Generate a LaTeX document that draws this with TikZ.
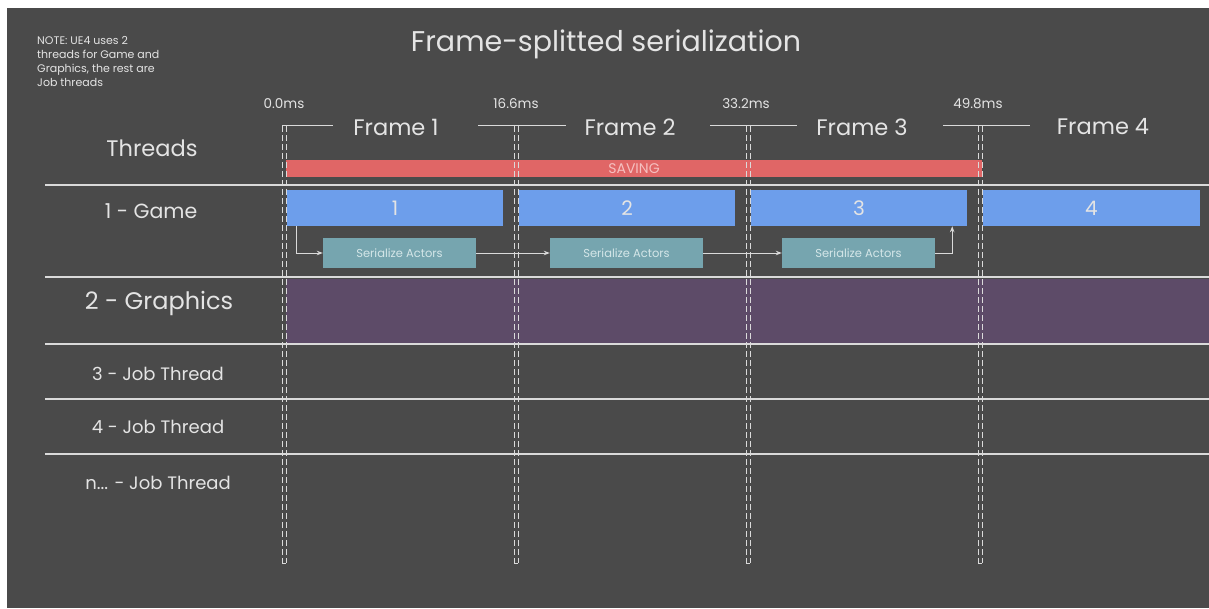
\documentclass[tikz,border=0pt]{standalone}
\usepackage{fontspec}
\setmainfont{Poppins}
\usetikzlibrary{arrows.meta}
\definecolor{bg}{RGB}{74,74,74}
\definecolor{txt}{RGB}{228,228,228}
\definecolor{ln}{RGB}{218,218,218}
\definecolor{savred}{RGB}{224,102,102}
\definecolor{savtxt}{RGB}{245,192,192}
\definecolor{gameblue}{RGB}{109,158,235}
\definecolor{serteal}{RGB}{118,165,175}
\definecolor{sertxt}{RGB}{212,230,232}
\definecolor{gfxpurple}{RGB}{93,75,104}
\newcommand{\fsz}[1]{\fontsize{#1}{#1}\selectfont}
\tikzset{
  lbl/.style={text=txt, inner sep=0pt, anchor=center},
  bar/.style={inner sep=0pt, anchor=center, draw=none},
  gamebar/.style={bar, fill=gameblue, minimum width=216pt, minimum height=36pt, text=txt, font=\fsz{20}},
  serbox/.style={bar, fill=serteal, minimum width=153pt, minimum height=30pt, text=sertxt, font=\fsz{11.5}},
  rowline/.style={draw=ln, line width=1.2pt},
  marker/.style={draw=ln, line width=0.9pt, dash pattern=on 6pt off 3pt},
  seg/.style={draw=ln, line width=1pt},
  conn/.style={draw=ln, line width=0.9pt, -{Stealth[length=6pt,width=4.5pt]}},
}
\begin{document}
\begin{tikzpicture}[x=1pt,y=-1pt]
\useasboundingbox (0,0) rectangle (1209,608);
\fill[white] (0,0) rectangle (1209,608);
\fill[bg] (7,8) rectangle (1209,608);

% note and title
\node[lbl, anchor=north west, align=left, font={\fontsize{11}{14}\selectfont}, text=txt] (note) at (37,36)
  {NOTE: UE4 uses 2\\threads for Game and\\Graphics, the rest are\\Job threads};
\node[lbl, font=\fsz{28.5}] (title) at (606,44) {Frame-splitted serialization};

% row lines
\coordinate (l0a) at (45,185); \coordinate (l0b) at (1209,185);
\coordinate (l1a) at (45,277); \coordinate (l1b) at (1209,277);
\coordinate (l2a) at (45,344); \coordinate (l2b) at (1209,344);
\coordinate (l3a) at (45,399); \coordinate (l3b) at (1209,399);
\coordinate (l4a) at (45,454); \coordinate (l4b) at (1209,454);
\foreach \i in {0,...,4} \draw[rowline] (l\i a) -- (l\i b);

% bars
\node[bar, fill=savred, minimum width=696pt, minimum height=17pt, text=savtxt, font=\fsz{14}] (save) at (634,168.5) {SAVING};
\node[gamebar] (b1) at (395,208) {1};
\node[gamebar] (b2) at (627,208) {2};
\node[gamebar] (b3) at (859,208) {3};
\node[gamebar, minimum width=217pt] (b4) at (1091.5,208) {4};
\node[bar, fill=gfxpurple, minimum width=923pt, minimum height=64pt] (gfx) at (747.5,311) {};

% serialize boxes
\node[serbox] (s1) at (399.5,253) {Serialize Actors};
\node[serbox] (s2) at (626.5,253) {Serialize Actors};
\node[serbox] (s3) at (858.5,253) {Serialize Actors};

% frame markers (double dashed lines)
\foreach \x/\n in {282/m0,514/m1,746/m2,978/m3}{
  \coordinate (\n t) at (\x,125);
  \coordinate (\n b) at (\x,563);
  \draw[marker] (\x,126) -- (\x,563);
  \draw[marker] (\x+4,126) -- (\x+4,563);
  \draw[draw=ln, line width=0.9pt] (\x,563) -- (\x+4,563);
}

% horizontal frame segments
\coordinate (g0a) at (282,125); \coordinate (g0b) at (333,125);
\coordinate (g1a) at (478,125); \coordinate (g1b) at (566,125);
\coordinate (g2a) at (710,125); \coordinate (g2b) at (797,125);
\coordinate (g3a) at (943,125); \coordinate (g3b) at (1030,125);
\foreach \i in {0,...,3} \draw[seg] (g\i a) -- (g\i b);

% time labels
\node[lbl, font=\fsz{13.5}] (t0) at (284,104) {0.0ms};
\node[lbl, font=\fsz{13.5}] (t1) at (516,104) {16.6ms};
\node[lbl, font=\fsz{13.5}] (t2) at (746,104) {33.2ms};
\node[lbl, font=\fsz{13.5}] (t3) at (978,104) {49.8ms};

% frame labels
\node[lbl, font=\fsz{22.5}] (f1) at (396,127) {Frame 1};
\node[lbl, font=\fsz{22.5}] (f2) at (630,127) {Frame 2};
\node[lbl, font=\fsz{22.5}] (f3) at (862,127) {Frame 3};
\node[lbl, font=\fsz{22.5}] (f4) at (1103,127) {Frame 4};

% row labels
\node[lbl, font=\fsz{22.5}] (rth) at (152,148) {Threads};
\node[lbl, font=\fsz{20.5}] (r1) at (151,211) {1 - Game};
\node[lbl, font=\fsz{24}] (r2) at (159,303) {2 - Graphics};
\node[lbl, font=\fsz{18}] (r3) at (158,374) {3 - Job Thread};
\node[lbl, font=\fsz{18}] (r4) at (158,427) {4 - Job Thread};
\node[lbl, font=\fsz{18}] (rn) at (158,483) {n... - Job Thread};

% connectors
\draw[conn] ([xshift=10pt]b1.south west) |- (s1.west);
\draw[conn] (s1.east) -- (s2.west);
\draw[conn] (s2.east) -- (s3.west);
\draw[conn] (s3.east) -| ([xshift=-15pt]b3.south east);
\end{tikzpicture}
\end{document}
